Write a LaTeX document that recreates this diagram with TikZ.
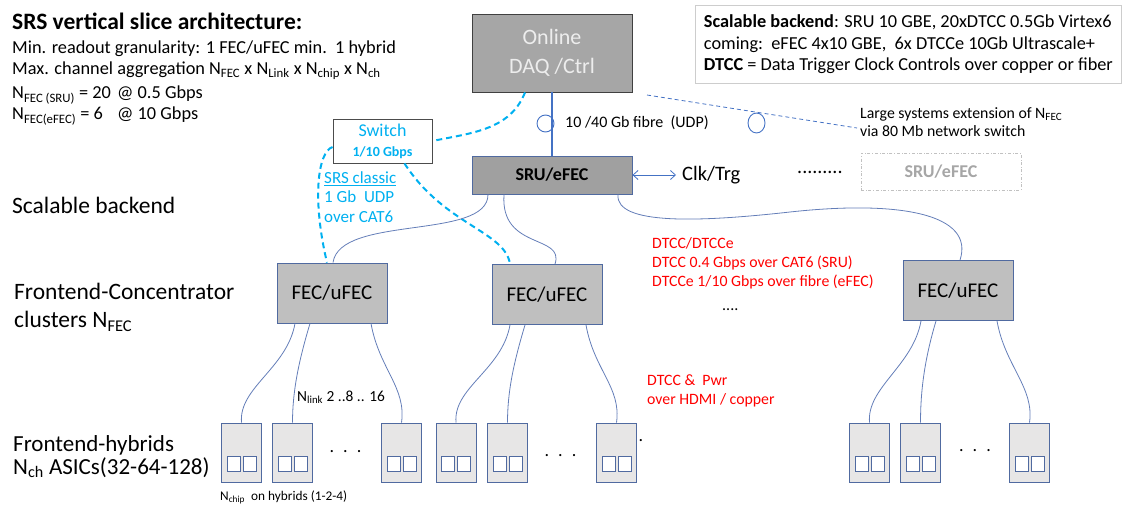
\documentclass[tikz,border=0pt]{standalone}
\usepackage{fontspec}
\setmainfont{Carlito}
\usetikzlibrary{arrows.meta}

\newcommand{\setfs}[2]{\fontsize{#1}{#2}\selectfont}

\definecolor{daqgray}{RGB}{166,166,166}
\definecolor{srugray}{RGB}{160,160,160}
\definecolor{fecgray}{RGB}{191,191,191}
\definecolor{hybgray}{RGB}{231,230,230}
\definecolor{edgeblue}{RGB}{80,106,160}
\definecolor{linkblue}{RGB}{100,126,184}
\definecolor{fibreblue}{RGB}{68,114,196}
\definecolor{cyanlink}{RGB}{0,176,240}
\definecolor{dtccred}{RGB}{255,0,0}
\definecolor{ghostgray}{RGB}{166,166,166}
\definecolor{infoedge}{RGB}{205,205,205}

\tikzset{
  txt/.style={inner sep=0pt, anchor=west},
  block/.style={draw=edgeblue, line width=0.9pt, inner sep=0pt},
  daqbox/.style={block, draw=black!75, fill=daqgray, text=black!7, minimum width=160pt, minimum height=78pt, align=center, font=\setfs{22}{29}},
  srubox/.style={block, fill=srugray, minimum width=160pt, minimum height=38pt, font=\setfs{18}{18}\bfseries},
  ghostbox/.style={draw=ghostgray!70, dash dot, line width=1pt, inner sep=0pt, text=ghostgray, minimum width=160pt, minimum height=37pt, font=\setfs{18}{18}\bfseries},
  switchbox/.style={block, draw=black!70, text=cyanlink, minimum width=99pt, minimum height=44pt, align=center, font=\setfs{18}{20}},
  fecbox/.style={block, fill=fecgray, minimum width=110pt, minimum height=60pt, font=\setfs{21}{21}},
  hybrid/.style={block, fill=hybgray, minimum width=40pt, minimum height=59pt},
  chip/.style={draw=edgeblue, line width=0.9pt, fill=white},
  infobox/.style={draw=infoedge, line width=0.8pt, align=left, inner xsep=8pt, minimum width=426pt, minimum height=78pt, font=\setfs{18.3}{21.5}},
  link/.style={draw=linkblue, line width=0.8pt},
  classic/.style={draw=cyanlink, line width=2pt, dash pattern=on 6pt off 4pt},
  fibre/.style={draw=fibreblue, line width=1.2pt},
}

\begin{document}
\begin{tikzpicture}[x=1pt,y=-1pt]
\useasboundingbox (0,0) rectangle (1126,508);

  % Text on the left
  \node[txt, anchor=base west, font=\setfs{23.5}{23.5}\bfseries] (title) at (12,30) {SRS vertical slice architecture:};
  \node[txt, anchor=base west, font=\setfs{18.3}{18.3}] (gran) at (12,54) {Min. readout granularity: 1 FEC/uFEC min.\ \ 1 hybrid};
  \node[txt, anchor=base west, font=\setfs{18.3}{18.3}] (aggr) at (12,75) {Max. channel aggregation N\textsubscript{FEC} x N\textsubscript{Link} x N\textsubscript{chip} x N\textsubscript{ch}};
  \node[txt, anchor=base west, font=\setfs{18.3}{18.3}] (nsru) at (12,99) {\makebox[105pt][l]{N\textsubscript{FEC (SRU)} = 20}@ 0.5 Gbps};
  \node[txt, anchor=base west, font=\setfs{18.3}{18.3}] (nefec) at (12,120) {\makebox[105pt][l]{N\textsubscript{FEC(eFEC)} = 6}@ 10 Gbps};

  \node[txt, font=\setfs{23.5}{23.5}] (backend) at (12,205) {Scalable backend};
  \node[txt, align=left, font=\setfs{23.5}{28}] (clusters) at (14,307.5) {Frontend-Concentrator\\clusters N\textsubscript{FEC}};
  \node[txt, align=left, font=\setfs{23}{23}] (hybrids) at (13,456.5) {Frontend-hybrids\\N\textsubscript{ch} ASICs(32-64-128)};

  % Info box
  \node[infobox, anchor=north west] (info) at (695,5) {\textbf{Scalable backend}: SRU 10 GBE, 20xDTCC 0.5Gb Virtex6\\coming:\ \ eFEC 4x10 GBE,\ \ 6x DTCCe 10Gb Ultrascale+\\\textbf{DTCC} = Data Trigger Clock Controls over copper or fiber};

  % Define nodes
  \node[daqbox] (daq) at (552,53) {Online\\DAQ /Ctrl};
  \node[srubox] (sru) at (552,175) {SRU/eFEC};
  \node[ghostbox] (sru2) at (941,171.5) {SRU/eFEC};
  \node[switchbox] (switch) at (382.5,141) {Switch\\{\setfs{14}{14}\bfseries 1/10 Gbps}};

  \node[fecbox] (fec1) at (332,293) {FEC/uFEC};
  \node[fecbox] (fec2) at (547,294.5) {FEC/uFEC};
  \node[fecbox] (fec3) at (958,290.5) {FEC/uFEC};

  \foreach \n/\x in {1/241.5, 2/292.5, 3/401.5, 4/456, 5/507.5, 6/616.5, 7/869.5, 8/920.5, 9/1029.5} {
    \node[hybrid] (h\n) at (\x,452.5) {};
    \draw[chip] ([shift={(-14.5,3.5)}]h\n.center) rectangle +(13,15);
    \draw[chip] ([shift={(1.5,3.5)}]h\n.center) rectangle +(13,15);
  }

  % Labels
  \node[txt, font=\setfs{16}{16}] (fibrelbl) at (565,123) {10 /40 Gb fibre\ \ (UDP)};
  \node[txt, align=left, font=\setfs{15.8}{18}] (ext) at (860,122) {Large systems extension of N\textsubscript{FEC}\\via 80 Mb network switch};
  \node[txt, font=\setfs{20.5}{20.5}] (clk) at (682,175) {Clk/Trg};
  \node[txt, font=\setfs{20}{20}] (moresru) at (797,172) {.........};
  \node[txt, align=left, text=cyanlink, font=\setfs{17}{19.5}] (classiclbl) at (324,197) {\underline{SRS classic}\\1 Gb\ \ UDP\\over CAT6};
  \node[txt, align=left, text=dtccred, font=\setfs{15.8}{19}] (dtcc) at (652,263) {DTCC/DTCCe\\DTCC 0.4 Gbps over CAT6 (SRU)\\DTCCe 1/10 Gbps over fibre (eFEC)};
  \node[txt, font=\setfs{16}{16}] (morefec) at (722,310) {....};
  \node[txt, align=left, text=dtccred, font=\setfs{15.8}{19}] (pwr) at (647,390.5) {DTCC \&\ \ Pwr\\over HDMI / copper};
  \node[txt, font=\setfs{15.4}{15.4}] (nlink) at (297,397) {N\textsubscript{link} 2 ..8 .. 16};
  \node[txt, font=\setfs{13.3}{13.3}] (nchip) at (220,497) {N\textsubscript{chip}\ \ on hybrids (1-2-4)};
  \node[font=\setfs{18}{18}] (dots1) at (345.5,452) {.\hspace{9pt}.\hspace{9pt}.};
  \node[font=\setfs{18}{18}] (dots2) at (560.5,456) {.\hspace{9pt}.\hspace{9pt}.};
  \node[font=\setfs{18}{18}] (dots3) at (975,451) {.\hspace{9pt}.\hspace{9pt}.};
  \node[font=\setfs{18}{18}] (dot4) at (641,441) {.};

  \coordinate (extA) at (647,95);
  \coordinate (extB) at (857,128);

  % Connect the nodes
  \draw[fibre] (daq.south) -- (sru.north);
  \draw[fibre, line width=0.9pt] (545.5,123.5) ellipse [x radius=8.5, y radius=8.5];
  \draw[fibre, line width=0.8pt, dash pattern=on 4pt off 3pt] (extA) -- (extB);
  \draw[fibre, line width=0.9pt] (756.5,123) ellipse [x radius=8.5, y radius=10];
  \draw[fibre, line width=0.8pt, {Straight Barb[length=5pt,width=9pt]}-{Straight Barb[length=5pt,width=9pt]}] (sru.east) -- ([xshift=-6pt]clk.west);

  \draw[classic] ([xshift=-27pt]daq.south) .. controls +(-15,38) and +(38,-8) .. (switch.east);
  \draw[classic] ([yshift=-6pt]switch.west) .. controls +(-15,5) and +(-15,-63) .. ([xshift=-5pt]fec1.north);
  \draw[classic] ([xshift=22pt]switch.south) .. controls +(40,62) and +(-5,-33) .. ([xshift=-37pt]fec2.north);

  \draw[link] ([xshift=-64pt]sru.south) .. controls +(0,46) and +(7,-48) .. ([xshift=1pt]fec1.north);
  \draw[link] ([xshift=-48pt]sru.south) .. controls +(-4,56) and +(10,-30) .. ([xshift=8pt]fec2.north);
  \draw[link] ([xshift=66pt]sru.south) .. controls +(-3,31) and +(-90,10) .. (790,212)
    .. controls +(110,-12) and +(15,-46) .. ([xshift=2pt]fec3.north);

  \foreach \f/\a/\b/\c in {1/1/2/3, 2/4/5/6, 3/7/8/9} {
    \draw[link] ([xshift=-37pt]fec\f.south) .. controls +(-8,45) and +(-3,-35) .. (h\a.north);
    \draw[link] ([xshift=-22pt]fec\f.south) .. controls +(-12,40) and +(0,-30) .. (h\b.north);
    \draw[link] ([xshift=39pt]fec\f.south) .. controls +(8,45) and +(5,-35) .. (h\c.north);
  }

\end{tikzpicture}
\end{document}
